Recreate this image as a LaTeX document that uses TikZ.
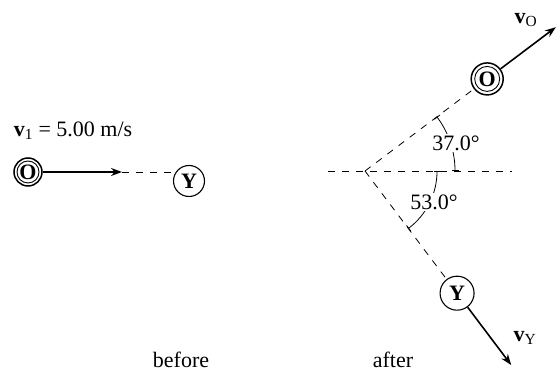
\documentclass[tikz,border=0pt]{standalone}
\usepackage{fontspec}
\setmainfont{Liberation Serif}
\usetikzlibrary{arrows.meta}
\begin{document}
\begin{tikzpicture}[x=1pt,y=1pt,
  ball/.style={circle,draw,line width=1.1pt,inner sep=0pt,font=\fontsize{22}{24}\selectfont\bfseries},
  oball/.style={ball,line width=1.5pt},
  ring/.style={line width=0.9pt},
  vel/.style={line width=1.6pt,-{Stealth[length=11pt,width=8pt]}},
  guide/.style={line width=0.8pt,dash pattern=on 7pt off 7pt},
  lbl/.style={font=\fontsize{22}{24}\selectfont,inner sep=0pt},
  anglbl/.style={lbl,fill=white,inner sep=1.5pt},
  ang/.style={line width=0.8pt,{Bar[width=7pt]}-{Bar[width=7pt]}}]
\useasboundingbox (0,0) rectangle (557,374);
% before
\node[oball,minimum size=28pt] (O1) at (28,202) {O};
\draw[ring] (O1.center) circle[radius=11pt];
\node[ball,minimum size=31pt] (Y1) at (189,193) {Y};
\coordinate (t1) at (122,202);
\draw[vel] (O1) -- (t1);
\draw[guide] (t1) -- (t1 -| Y1.west);
\node[lbl] (v1) at (73,243) {\textbf{v}\textsubscript{1} = 5.00 m/s};
\node[lbl] (bf) at (181,14) {before};
% after
\coordinate (V) at (365,203);
\coordinate (hl) at (328,203);
\coordinate (hr) at (512,203);
\draw[guide] (hl) -- (hr);
\node[oball,minimum size=32pt] (O2) at ([shift={(37:153)}]V) {O};
\draw[ring] (O2.center) circle[radius=12.5pt];
\node[ball,minimum size=34pt] (Y2) at ([shift={(-53:153)}]V) {Y};
\draw[guide] (V) -- (O2);
\draw[guide] (V) -- (Y2);
\coordinate (tO) at ([shift={(37:86)}]O2);
\coordinate (tY) at ([shift={(-53:90)}]Y2);
\draw[vel] (O2) -- (tO);
\draw[vel] (Y2) -- (tY);
\draw[ang] ([shift={(0:90)}]V) arc[start angle=0,end angle=37,radius=90];
\draw[ang] ([shift={(0:72)}]V) arc[start angle=0,end angle=-53,radius=72];
\node[anglbl] (a37) at (456,231) {37.0°};
\node[anglbl] (a53) at (434,172) {53.0°};
\node[lbl] (vO) at (526,354) {\textbf{v}\textsubscript{O}};
\node[lbl] (vY) at (525,36) {\textbf{v}\textsubscript{Y}};
\node[lbl] (af) at (393,14) {after};
\end{tikzpicture}
\end{document}
